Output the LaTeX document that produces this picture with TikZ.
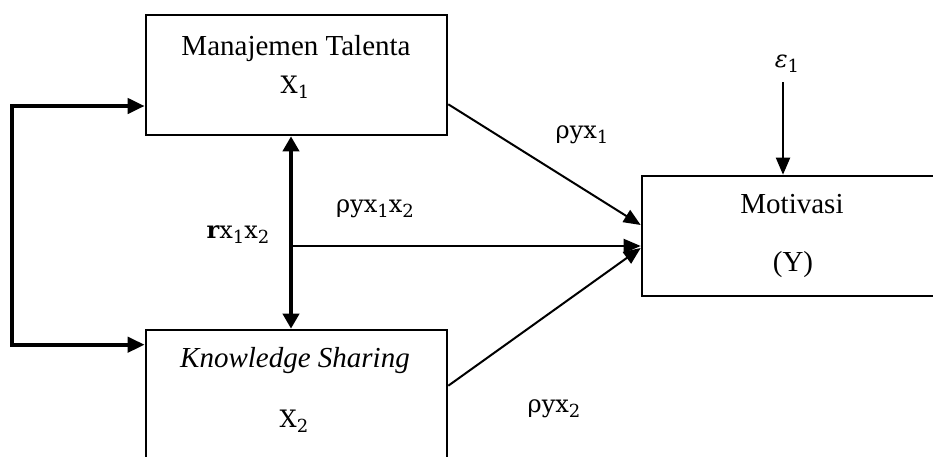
\documentclass[tikz,border=0pt]{standalone}
\usepackage{fontspec}
\setmainfont{Liberation Serif}
\newfontfamily\labelfont{DejaVu Serif}
\usetikzlibrary{arrows.meta,calc}
% lowered index in the label font
\newcommand\lsub[1]{\raisebox{-5pt}{\fontsize{18}{18}\selectfont #1}}

\begin{document}
\begin{tikzpicture}[x=1pt,y=-1pt,
  box/.style={draw, line width=2.6pt, inner sep=0pt},
  txt/.style={font=\fontsize{29}{34}\selectfont, inner sep=0pt, anchor=base},
  lbl/.style={font=\labelfont\fontsize{24}{28}\selectfont, inner sep=0pt, anchor=base},
  thinarrow/.style={line width=2pt, -{Triangle[length=17pt,width=14pt]}},
  bracket/.style={line width=4pt, {Triangle[length=17pt,width=15pt]}-{Triangle[length=17pt,width=15pt]}},
  bothtips/.style={line width=4pt, {Triangle[length=15pt,width=16pt]}-{Triangle[length=15pt,width=16pt]}}]

\useasboundingbox (0,0) rectangle (933,456);

% boxes (the lower and the right one run past the page edge)
\begin{scope}
  \clip (0,0) rectangle (933,456);
  \node[box, minimum width=301pt, minimum height=120pt] (x1) at (296.5,75) {};
  \node[box, minimum width=301pt, minimum height=150pt] (x2) at (296.5,405) {};
  \node[box, minimum width=300pt, minimum height=120pt] (y) at (792,236) {};
\end{scope}

% box texts
\node[txt] (t1) at (296,55) {Manajemen Talenta};
\node[lbl] (t1s) at (295,93) {X\lsub{1}};
\node[txt] (t2) at (295,367) {\itshape Knowledge Sharing};
\node[lbl] (t2s) at (294,427) {X\lsub{2}};
\node[txt] (ty) at (792,213) {Motivasi};
\node[txt] (tys) at (793,271) {(Y)};

% path labels
\node[lbl] (p1) at (582,138) {ρyx\lsub{1}};
\node[lbl] (p12) at (375,212) {ρyx\lsub{1}x\lsub{2}};
\node[lbl] (r12) at (238,238) {\textbf{r}x\lsub{1}x\lsub{2}};
\node[lbl] (p2) at (554,412) {ρyx\lsub{2}};
\node[lbl] (eps) at (787,67) {\itshape ε\lsub{\upshape 1}};

% correlation bracket on the left
\coordinate (bt) at (12,106);
\draw[bracket] ($(x2.north west)+(0,16)$) -| (bt) -- (bt -| x1.west);

% double arrow between the two exogenous boxes
\coordinate (v) at (291,246);
\draw[bothtips] (v |- x1.south) -- (v |- x2.north);

% paths into Motivasi
\draw[thinarrow] ($(x1.south east)+(0,-32)$) -- ($(y.west)+(0,-11)$);
\draw[thinarrow] (v) -- (v -| y.west);
\draw[thinarrow] ($(x2.north east)+(0,57)$) -- ($(y.west)+(0,12)$);

% residual
\coordinate (e) at (783,82);
\draw[thinarrow] (e) -- (e |- y.north);
\end{tikzpicture}
\end{document}
